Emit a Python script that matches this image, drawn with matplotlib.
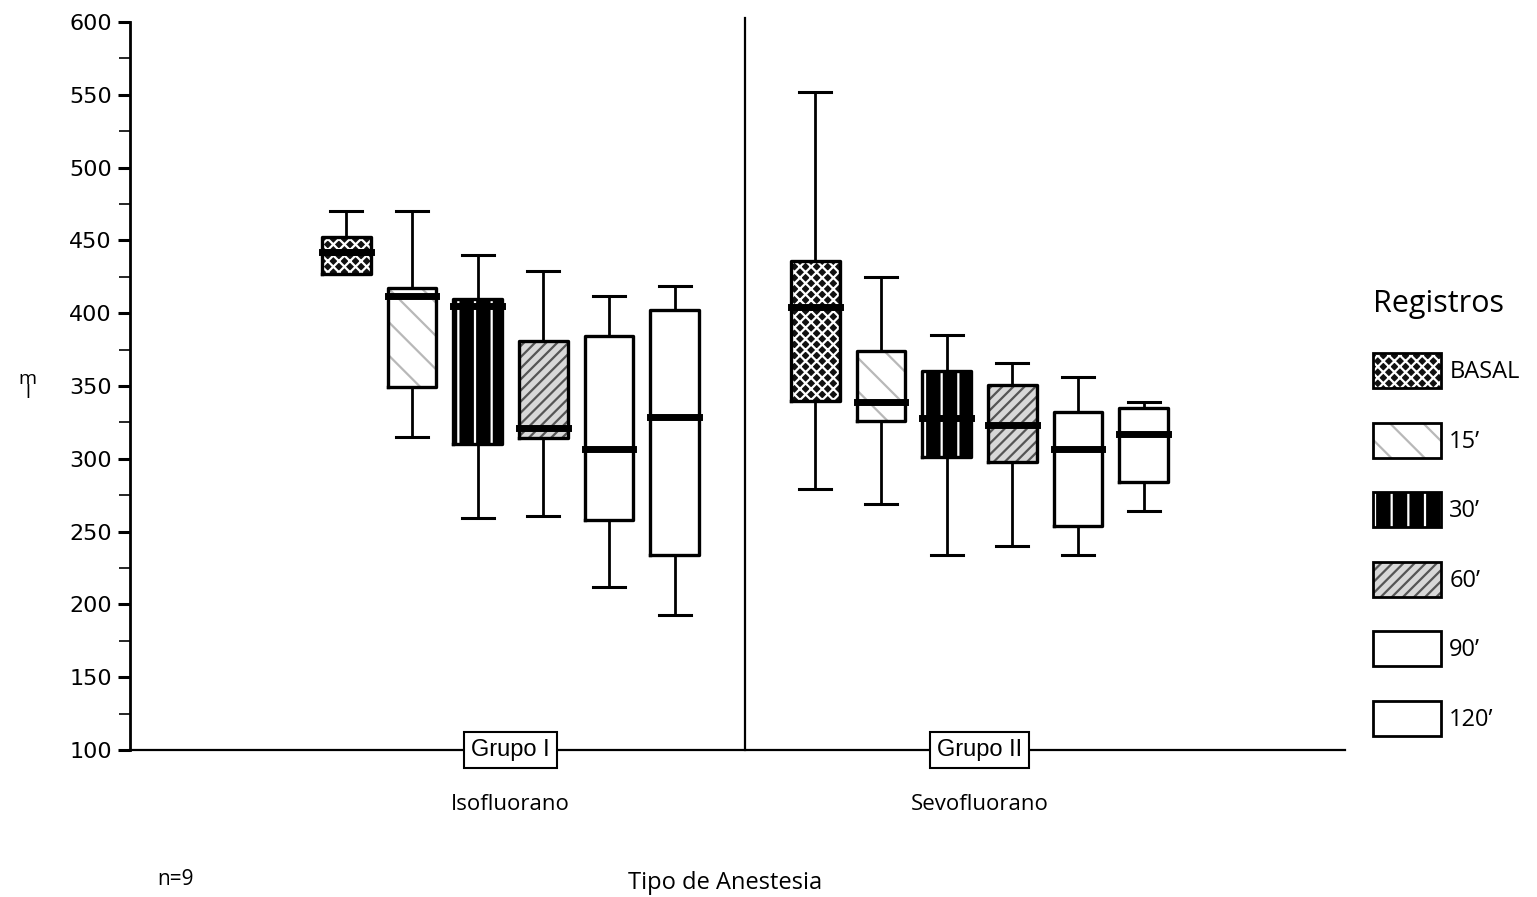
import matplotlib
matplotlib.use("Agg")
import matplotlib.pyplot as plt
from matplotlib.patches import Patch
from matplotlib.legend_handler import HandlerTuple

plt.rcParams["font.family"] = ["Open Sans", "DejaVu Sans"]
plt.rcParams["hatch.linewidth"] = 1.6

groups = ["Isofluorano", "Sevofluorano"]
group_tags = ["Grupo I", "Grupo II"]
registros = ["BASAL", "15’", "30’", "60’", "90’", "120’"]

# per-group box statistics, one value per registro
iso_whislo = [427, 315, 259, 261, 212, 193]
iso_q1 = [427, 349, 310, 314, 258, 234]
iso_med = [442, 412, 405, 321, 307, 329]
iso_q3 = [452, 417, 410, 381, 384, 402]
iso_whishi = [470, 470, 440, 429, 412, 419]

sevo_whislo = [279, 269, 234, 240, 234, 264]
sevo_q1 = [340, 326, 301, 298, 254, 284]
sevo_med = [404, 339, 328, 323, 307, 317]
sevo_q3 = [436, 374, 360, 351, 332, 335]
sevo_whishi = [552, 425, 385, 366, 356, 339]

stats_by_group = [
    (iso_whislo, iso_q1, iso_med, iso_q3, iso_whishi),
    (sevo_whislo, sevo_q1, sevo_med, sevo_q3, sevo_whishi),
]

# fill style per registro: (face, hatch, hatch colour)
fills = [
    ("#111111", "xxx", "white"),
    ("white", "\\", "#b8b8b8"),
    ("black", "|", "white"),
    ("#d8d8d8", "///", "#555555"),
    ("white", "", "white"),
    ("white", "", "white"),
]

step, width = 0.14, 0.104

fig = plt.figure(figsize=(15.37, 8.97), dpi=100)
ax = fig.add_axes([0.0846, 0.1639, 0.7905, 0.8116])

for i, name in enumerate(registros):
    pos = [g + (i - 2.5) * step for g in range(len(groups))]
    st = []
    for wl, q1, md, q3, wh in stats_by_group:
        st.append(dict(whislo=wl[i], q1=q1[i], med=md[i], q3=q3[i],
                       whishi=wh[i], fliers=[]))
    face, hatch, hcol = fills[i]
    # filled, hatched body
    ax.bxp(st, positions=pos, widths=width, patch_artist=True,
           showcaps=False, manage_ticks=False,
           boxprops=dict(facecolor=face, edgecolor=hcol, linewidth=0,
                         hatch=hatch),
           whiskerprops=dict(linewidth=0),
           medianprops=dict(linewidth=0))
    # outlines, whiskers, caps and medians on top
    ax.bxp(st, positions=pos, widths=width, capwidths=0.068,
           manage_ticks=False,
           boxprops=dict(color="black", linewidth=2.4),
           whiskerprops=dict(color="black", linewidth=2.0),
           capprops=dict(color="black", linewidth=2.2),
           medianprops=dict(color="black", linewidth=5,
                            solid_capstyle="projecting"))

ax.set_xlim(-0.811, 1.779)
ax.set_ylim(100, 600)
ax.set_yticks(range(100, 601, 50))
ax.set_yticks(range(125, 600, 50), minor=True)
ax.tick_params(axis="y", which="major", length=9, width=2.2, labelsize=16,
               pad=4)
ax.tick_params(axis="y", which="minor", length=8, width=1.2)
for lbl in ax.get_yticklabels():
    lbl.set_family("DejaVu Sans")
ax.set_xticks(range(len(groups)))
ax.set_xticklabels(groups, fontsize=16)
ax.tick_params(axis="x", length=0, pad=32)
for side in ("top", "right"):
    ax.spines[side].set_visible(False)
ax.spines["left"].set_linewidth(2)
ax.spines["bottom"].set_linewidth(1.6)
ax.axvline(0.5, ymin=0, ymax=1.006, color="black", lw=1.6, clip_on=False)

for g, tag in enumerate(group_tags):
    ax.text(g, 100, tag, ha="center", va="center", fontsize=17,
            family="Liberation Sans",
            bbox=dict(boxstyle="square,pad=0.3", fc="white", ec="black",
                      lw=1.5))

ax.set_xlabel("Tipo de Anestesia", fontsize=17, labelpad=40)
ax.xaxis.label.set_x(0.49)
fig.text(0.018, 0.57, "m\nl", fontsize=14, ha="center", va="center",
         linespacing=0.7)
fig.text(0.114, 0.019, "n=9", fontsize=15, ha="center", va="center")

handles = []
for face, hatch, hcol in fills:
    body = Patch(facecolor=face, edgecolor=hcol, linewidth=0, hatch=hatch)
    edge = Patch(facecolor="none", edgecolor="black", linewidth=2)
    handles.append((body, edge))
leg = fig.legend(handles, registros, loc="upper left",
                 bbox_to_anchor=(0.893, 0.678), frameon=False,
                 title="Registros", title_fontsize=22, fontsize=17,
                 handlelength=2.9, handleheight=1.92, labelspacing=1.45,
                 handletextpad=0.35, borderpad=0, borderaxespad=0,
                 handler_map={tuple: HandlerTuple(ndivide=1)})
leg._legend_box.align = "left"

fig.savefig("out.png", dpi=100)
